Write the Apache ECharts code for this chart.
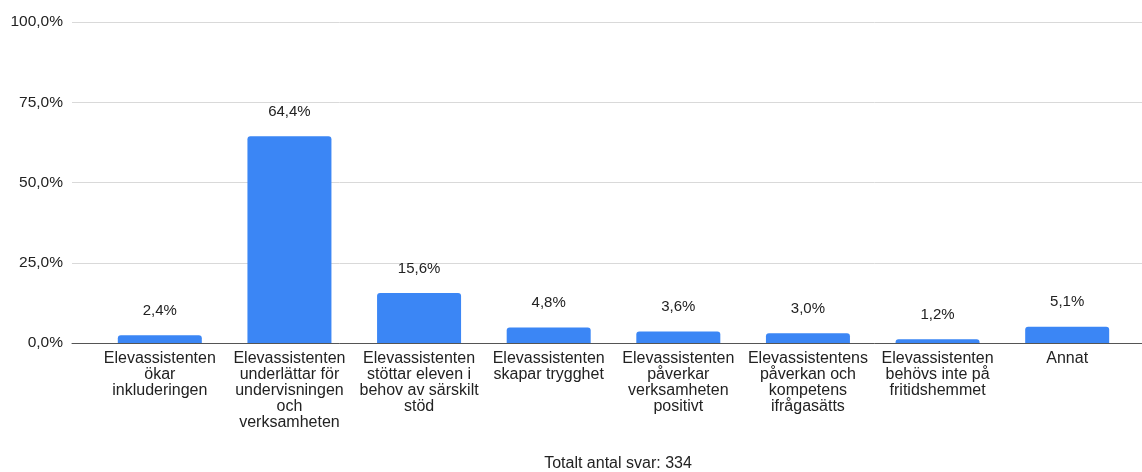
<!DOCTYPE html>
<html>
<head>
<meta charset="utf-8">
<script src="https://cdn.jsdelivr.net/npm/echarts@6/dist/echarts.min.js"></script>
<style>
html,body{margin:0;padding:0;background:#fff;}
#chart{width:1142px;height:472px;}
</style>
</head>
<body>
<div id="chart"></div>
<script>
var categories = [
  "Elevassistenten\nökar\ninkluderingen",
  "Elevassistenten\nunderlättar för\nundervisningen\noch\nverksamheten",
  "Elevassistenten\nstöttar eleven i\nbehov av särskilt\nstöd",
  "Elevassistenten\nskapar trygghet",
  "Elevassistenten\npåverkar\nverksamheten\npositivt",
  "Elevassistentens\npåverkan och\nkompetens\nifrågasätts",
  "Elevassistenten\nbehövs inte på\nfritidshemmet",
  "Annat"
];
var values = [2.4, 64.4, 15.6, 4.8, 3.6, 3.0, 1.2, 5.1];
var yTicks = [0, 25, 50, 75, 100];
var titleText = "Totalt antal svar: 334";

var fontFamily = "Liberation Sans, Arial, Helvetica, sans-serif";
function pct(v){ return v.toFixed(1).replace('.', ',') + '%'; }

var chart = echarts.init(document.getElementById('chart'), null, {renderer:'canvas'});
chart.setOption({
  animation: false,
  backgroundColor: '#ffffff',
  textStyle: {fontFamily: fontFamily},
  title: {
    text: titleText,
    left: 613, top: 451,
    textAlign: 'center',
    textStyle: {fontSize: 16, fontWeight: 'normal', color: '#222', fontFamily: fontFamily}
  },
  grid: [
    {left: 72, right: 0, top: 22, bottom: 129},
    {left: 95, right: 10, top: 22, bottom: 129}
  ],
  xAxis: [
    {
      gridIndex: 0, type: 'value', min: 0, max: 1,
      axisLine: {show: true, onZero: true, lineStyle: {color: '#555', width: 1}},
      axisTick: {show: false}, axisLabel: {show: false}, splitLine: {show: false}
    },
    {
      gridIndex: 1, type: 'category', data: categories,
      axisLine: {show: false}, axisTick: {show: false},
      axisLabel: {
        interval: 0, margin: 8, color: '#222', fontSize: 16, lineHeight: 16,
        fontFamily: fontFamily
      }
    }
  ],
  yAxis: [
    {
      gridIndex: 0, type: 'value', min: yTicks[0], max: yTicks[yTicks.length-1], interval: 25,
      axisLine: {show: false}, axisTick: {show: false},
      axisLabel: {margin: 9, color: '#222', fontSize: 15.5, fontFamily: fontFamily, formatter: function(v){ return pct(v); }},
      splitLine: {show: true, lineStyle: {color: '#d9d9d9', width: 1}}
    },
    {
      gridIndex: 1, type: 'value', min: yTicks[0], max: yTicks[yTicks.length-1],
      show: false, splitLine: {show: false}
    }
  ],
  series: [{
    type: 'bar',
    xAxisIndex: 1, yAxisIndex: 1,
    data: values,
    barWidth: 84,
    itemStyle: {color: '#3b86f5', borderRadius: [3, 3, 0, 0]},
    label: {
      show: true, position: 'top', distance: 17,
      color: '#222', fontSize: 15, fontFamily: fontFamily,
      formatter: function(p){ return pct(p.value); }
    }
  }]
});
</script>
</body>
</html>
